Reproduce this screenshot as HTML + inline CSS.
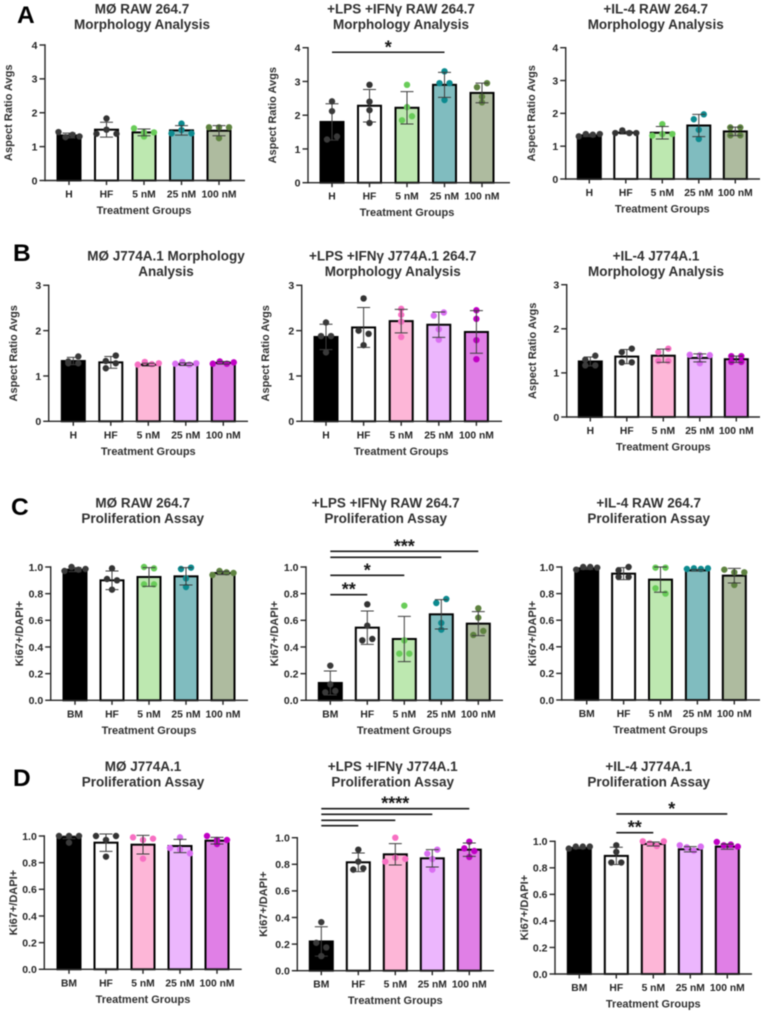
<!DOCTYPE html>
<html lang="en">
<head>
<meta charset="utf-8">
<title>Macrophage morphology and proliferation charts</title>
<style>
  html, body { margin: 0; padding: 0; background: #fff; }
  #figure { display: block; filter: blur(0.45px); font-family: "Liberation Sans", Arial, sans-serif; font-weight: bold; }
</style>
</head>
<body>
<svg id="figure" xmlns="http://www.w3.org/2000/svg" width="766" height="1015" viewBox="0 0 766 1015">
  <rect x="0" y="0" width="766" height="1015" fill="#ffffff"/>
  <text x="17" y="23" font-size="24.5" fill="#000">A</text>
  <text x="13" y="261" font-size="24.5" fill="#000">B</text>
  <text x="11" y="515" font-size="24.5" fill="#000">C</text>
  <text x="13" y="786" font-size="24.5" fill="#000">D</text>
</svg>
<script>
// ---------- shared categories and tick labels ----------
const hCategories = ['H', 'HF', '5 nM', '25 nM', '100 nM'];
const bmCategories = ['BM', 'HF', '5 nM', '25 nM', '100 nM'];
const ticksFour = [0, 1, 2, 3, 4];
const ticksThree = [0, 1, 2, 3];
const ticksFraction = [0, 0.2, 0.4, 0.6, 0.8, 1];
const xAxisTitle = 'Treatment Groups';
const morphologyTitle = 'Aspect Ratio Avgs';
const proliferationTitle = 'Ki67+/DAPI+';

// ---------- data ----------
const a1Means = [1.33, 1.5, 1.42, 1.48, 1.47];
const a1Sds = [0.07, 0.22, 0.1, 0.14, 0.15];
const a1Points = [[1.43, 1.28, 1.35, 1.3], [1.83, 1.38, 1.5, 1.38], [1.54, 1.3, 1.42, 1.42], [1.68, 1.39, 1.49, 1.39], [1.57, 1.57, 1.57, 1.25]];

const a2Means = [1.8, 2.28, 2.22, 2.9, 2.66];
const a2Sds = [0.54, 0.48, 0.48, 0.37, 0.29];
const a2Points = [[2.41, 2.12, 1.28, 1.37], [2.9, 2.4, 2.15, 1.77], [2.9, 2.24, 1.85, 1.97], [3.3, 2.95, 2.95, 2.45], [2.83, 2.95, 2.55, 2.38]];

const a3Means = [1.33, 1.41, 1.41, 1.63, 1.45];
const a3Sds = [0.04, 0.04, 0.19, 0.34, 0.13];
const a3Points = [[1.3, 1.37, 1.35, 1.37], [1.4, 1.48, 1.4, 1.4], [1.67, 1.32, 1.37, 1.37], [1.82, 1.97, 1.5, 1.22], [1.57, 1.57, 1.33, 1.33]];

const b1Means = [1.33, 1.3, 1.25, 1.26, 1.29];
const b1Sds = [0.08, 0.13, 0.03, 0.03, 0.03];
const b1Points = [[1.28, 1.32, 1.43, 1.28], [1.17, 1.33, 1.45, 1.28], [1.25, 1.31, 1.26, 1.28], [1.27, 1.31, 1.25, 1.28], [1.27, 1.32, 1.27, 1.3]];

const b2Means = [1.86, 2.07, 2.21, 2.13, 1.97];
const b2Sds = [0.28, 0.44, 0.26, 0.28, 0.47];
const b2Points = [[2.18, 1.88, 1.88, 1.52], [2.71, 2.0, 1.93, 1.68], [2.48, 2.35, 2.2, 1.86], [2.33, 2.4, 2.03, 1.8], [2.45, 2.26, 1.79, 1.37]];

const b3Means = [1.26, 1.37, 1.39, 1.34, 1.31];
const b3Sds = [0.1, 0.16, 0.15, 0.09, 0.07];
const b3Points = [[1.3, 1.39, 1.17, 1.17], [1.47, 1.55, 1.24, 1.24], [1.47, 1.55, 1.27, 1.27], [1.41, 1.4, 1.4, 1.22], [1.38, 1.38, 1.25, 1.25]];

const c1Means = [0.98, 0.9, 0.925, 0.93, 0.955];
const c1Sds = [0.015, 0.07, 0.07, 0.065, 0.012];
const c1Points = [[0.97, 1.0, 0.98, 0.985], [0.99, 0.91, 0.9, 0.83], [1.0, 0.99, 0.87, 0.87], [0.985, 0.995, 0.915, 0.85], [0.94, 0.97, 0.96, 0.955]];

const c2Means = [0.13, 0.545, 0.46, 0.645, 0.575];
const c2Sds = [0.09, 0.125, 0.17, 0.11, 0.09];
const c2Points = [[0.26, 0.12, 0.06, 0.07], [0.72, 0.56, 0.45, 0.46], [0.71, 0.45, 0.35, 0.35], [0.73, 0.76, 0.58, 0.53], [0.69, 0.62, 0.49, 0.52]];

const c3Means = [0.99, 0.95, 0.905, 0.975, 0.935];
const c3Sds = [0.008, 0.045, 0.095, 0.006, 0.055];
const c3Points = [[0.98, 1.0, 1.0, 0.995], [0.975, 1.0, 0.925, 0.925], [0.995, 0.995, 0.84, 0.8], [0.985, 0.99, 0.985, 0.99], [0.98, 0.96, 0.96, 0.865]];

const d1Means = [0.99, 0.95, 0.935, 0.925, 0.965];
const d1Sds = [0.01, 0.065, 0.07, 0.05, 0.025];
const d1Points = [[1.0, 1.0, 1.0, 0.95], [1.0, 0.97, 1.0, 0.845], [0.99, 0.97, 0.98, 0.83], [0.99, 0.91, 0.9, 0.87], [1.0, 0.97, 0.97, 0.94]];

const d2Means = [0.22, 0.815, 0.875, 0.845, 0.91];
const d2Sds = [0.11, 0.07, 0.08, 0.065, 0.05];
const d2Points = [[0.365, 0.21, 0.175, 0.11], [0.91, 0.82, 0.76, 0.77], [1.0, 0.82, 0.85, 0.84], [0.88, 0.91, 0.84, 0.76], [0.97, 0.92, 0.9, 0.855]];

const d3Means = [0.95, 0.89, 0.98, 0.94, 0.96];
const d3Sds = [0.005, 0.065, 0.015, 0.02, 0.02];
const d3Points = [[0.945, 0.96, 0.96, 0.96], [0.97, 0.92, 0.84, 0.84], [1.0, 0.985, 0.965, 1.0], [0.97, 0.955, 0.93, 0.96], [0.995, 0.97, 0.975, 0.96]];

// significance brackets: group indices, height in axis units, printed stars
const a2Sig = [{ from: 0, to: 3, at: 3.865, label: '*' }];
const c2Sig = [
  { from: 0, to: 1, at: 0.792, label: '**' },
  { from: 0, to: 2, at: 0.938, label: '*' },
  { from: 0, to: 3, at: 1.073, label: '' },
  { from: 0, to: 4, at: 1.118, label: '***' }
];
const d2Sig = [
  { from: 0, to: 1, at: 1.09, label: '' },
  { from: 0, to: 2, at: 1.131, label: '' },
  { from: 0, to: 3, at: 1.176, label: '' },
  { from: 0, to: 4, at: 1.218, label: '****' }
];
const d3Sig = [
  { from: 1, to: 2, at: 1.065, label: '**' },
  { from: 1, to: 4, at: 1.206, label: '*' }
];

// ---------- styling palettes ----------
const greenFills = ['#000000', '#ffffff', '#bde8b0', '#80bcbf', '#aebb9f'];
const greenDots = ['#3a3a3a', '#333333', '#68cc58', '#0c8a8f', '#5e8240'];
const pinkFills = ['#000000', '#ffffff', '#fdb6d7', '#ecb6fd', '#e07fe6'];
const pinkDots = ['#3a3a3a', '#333333', '#f76fc2', '#d96ef2', '#c000c4'];

// ---------- panel list: data references + frame geometry ----------
const panels = [
  { id: 'a1', title: ['MØ RAW 264.7', 'Morphology Analysis'], titleX: 142, titleY: 13.5, cats: hCategories, means: a1Means, sds: a1Sds, points: a1Points, ticks: ticksFour, dec: 0, yt: morphologyTitle, sig: [], fills: greenFills, dots: greenDots, ax: 45, top: 45, base: 180.5, first: 69, step: 37.5, end: 245, ytX: 12 },
  { id: 'a2', title: ['+LPS +IFNγ RAW 264.7', 'Morphology Analysis'], titleX: 401, titleY: 13.5, cats: hCategories, means: a2Means, sds: a2Sds, points: a2Points, ticks: ticksFour, dec: 0, yt: morphologyTitle, sig: a2Sig, fills: greenFills, dots: greenDots, ax: 308, top: 47.7, base: 182.7, first: 332, step: 37.5, end: 510, ytX: 276 },
  { id: 'a3', title: ['+IL-4 RAW 264.7', 'Morphology Analysis'], titleX: 655.7, titleY: 13.5, cats: hCategories, means: a3Means, sds: a3Sds, points: a3Points, ticks: ticksFour, dec: 0, yt: morphologyTitle, sig: [], fills: greenFills, dots: greenDots, ax: 565.7, top: 47.7, base: 179, first: 589.3, step: 36.5, end: 760, ytX: 535 },
  { id: 'b1', title: ['MØ J774A.1 Morphology', 'Analysis'], titleX: 166, titleY: 260.5, cats: hCategories, means: b1Means, sds: b1Sds, points: b1Points, ticks: ticksThree, dec: 0, yt: morphologyTitle, sig: [], fills: pinkFills, dots: pinkDots, ax: 48.7, top: 285.3, base: 421.3, first: 73.3, step: 37.5, end: 248, ytX: 17 },
  { id: 'b2', title: ['+LPS +IFNγ J774A.1 264.7', 'Morphology Analysis'], titleX: 392.7, titleY: 260.5, cats: hCategories, means: b2Means, sds: b2Sds, points: b2Points, ticks: ticksThree, dec: 0, yt: morphologyTitle, sig: [], fills: pinkFills, dots: pinkDots, ax: 301.7, top: 285.3, base: 421.3, first: 326, step: 37.6, end: 502, ytX: 269 },
  { id: 'b3', title: ['+IL-4 J774A.1', 'Morphology Analysis'], titleX: 656, titleY: 260.5, cats: hCategories, means: b3Means, sds: b3Sds, points: b3Points, ticks: ticksThree, dec: 0, yt: morphologyTitle, sig: [], fills: pinkFills, dots: pinkDots, ax: 566.7, top: 284.7, base: 417, first: 590.3, step: 36.5, end: 760, ytX: 536 },
  { id: 'c1', title: ['MØ RAW 264.7', 'Proliferation Assay'], titleX: 142.7, titleY: 507.5, cats: bmCategories, means: c1Means, sds: c1Sds, points: c1Points, ticks: ticksFraction, dec: 1, yt: proliferationTitle, sig: [], fills: greenFills, dots: greenDots, ax: 50.7, top: 567, base: 700.3, first: 75, step: 37, end: 248, ytX: 23 },
  { id: 'c2', title: ['+LPS +IFNγ RAW 264.7', 'Proliferation Assay'], titleX: 385.7, titleY: 507.5, cats: bmCategories, means: c2Means, sds: c2Sds, points: c2Points, ticks: ticksFraction, dec: 1, yt: proliferationTitle, sig: c2Sig, fills: greenFills, dots: greenDots, ax: 306, top: 567, base: 700.3, first: 330.3, step: 37, end: 503, ytX: 278 },
  { id: 'c3', title: ['+IL-4 RAW 264.7', 'Proliferation Assay'], titleX: 648.7, titleY: 507.5, cats: bmCategories, means: c3Means, sds: c3Sds, points: c3Points, ticks: ticksFraction, dec: 1, yt: proliferationTitle, sig: [], fills: greenFills, dots: greenDots, ax: 561.7, top: 567, base: 700, first: 586.7, step: 36.9, end: 760, ytX: 536 },
  { id: 'd1', title: ['MØ J774A.1', 'Proliferation Assay'], titleX: 143, titleY: 771, cats: bmCategories, means: d1Means, sds: d1Sds, points: d1Points, ticks: ticksFraction, dec: 1, yt: proliferationTitle, sig: [], fills: pinkFills, dots: pinkDots, ax: 44.3, top: 836, base: 969.3, first: 69, step: 37, end: 241.7, ytX: 17 },
  { id: 'd2', title: ['+LPS +IFNγ J774A.1', 'Proliferation Assay'], titleX: 392.7, titleY: 771, cats: bmCategories, means: d2Means, sds: d2Sds, points: d2Points, ticks: ticksFraction, dec: 1, yt: proliferationTitle, sig: d2Sig, fills: pinkFills, dots: pinkDots, ax: 297.3, top: 837.7, base: 970.7, first: 321.3, step: 37, end: 494, ytX: 267 },
  { id: 'd3', title: ['+IL-4 J774A.1', 'Proliferation Assay'], titleX: 648.7, titleY: 771, cats: bmCategories, means: d3Means, sds: d3Sds, points: d3Points, ticks: ticksFraction, dec: 1, yt: proliferationTitle, sig: d3Sig, fills: pinkFills, dots: pinkDots, ax: 555, top: 841.3, base: 974, first: 579.3, step: 37, end: 752, ytX: 528 }
];

const SVG_NS = 'http://www.w3.org/2000/svg';
const svg = document.getElementById('figure');
const INK = '#262626';

function make(parent, tag, attrs, text) {
  const el = document.createElementNS(SVG_NS, tag);
  Object.keys(attrs).forEach(function (k) { el.setAttribute(k, attrs[k]); });
  if (text !== undefined) el.textContent = text;
  parent.appendChild(el);
  return el;
}

// Spread values that would overlap into a centred row; array order is left-to-right.
function swarmOffsets(values, yScale) {
  const order = values.map(function (v, i) { return i; }).sort(function (a, b) { return values[b] - values[a]; });
  const offsets = values.map(function () { return 0; });
  let cluster = [];
  function flush() {
    const n = cluster.length;
    if (n > 1) {
      const gap = n === 2 ? 10 : Math.min(10, 21 / (n - 1));
      const inPlace = cluster.slice().sort(function (a, b) { return a - b; });
      inPlace.forEach(function (idx, k) { offsets[idx] = (k - (n - 1) / 2) * gap; });
    }
    cluster = [];
  }
  order.forEach(function (idx) {
    if (cluster.length && Math.abs(yScale(values[idx]) - yScale(values[cluster[0]])) > 5.5) flush();
    cluster.push(idx);
  });
  flush();
  return offsets;
}

panels.forEach(function (p) {
  const g = make(svg, 'g', {});
  
  

  const maxTick = p.ticks[p.ticks.length - 1];
  const y = function (v) { return p.base + (p.top - p.base) * v / maxTick; };
  const x = function (i) { return p.first + p.step * i; };

  // title
  p.title.forEach(function (line, i) {
    const t = make(g, 'text', { x: p.titleX, y: p.titleY + i * 15.7, 'text-anchor': 'middle', 'font-size': 13.5, fill: '#303030' }, line);
    
    
  });

  // bars
  p.means.forEach(function (m, i) {
    const bar = make(g, 'rect', { x: x(i) - 11.5, y: y(m), width: 23, height: p.base - y(m), fill: p.fills[i], stroke: '#000', 'stroke-width': 2 });
    
    
  });

  // data points
  p.points.forEach(function (vals, i) {
    const offs = swarmOffsets(vals, y);
    vals.forEach(function (v, j) {
      const dot = make(g, 'circle', { cx: x(i) + offs[j], cy: y(v), r: 3.2, fill: p.dots[i] });
      
      
    });
  });

  // error bars
  p.means.forEach(function (m, i) {
    const hi = y(m + p.sds[i]);
    const lo = y(m - p.sds[i]);
    const d = 'M' + x(i) + ' ' + hi + 'V' + lo + 'M' + (x(i) - 6.5) + ' ' + hi + 'H' + (x(i) + 6.5) + 'M' + (x(i) - 6.5) + ' ' + lo + 'H' + (x(i) + 6.5);
    const err = make(g, 'path', { d: d, fill: 'none', stroke: '#3c3c3c', 'stroke-width': 1 });
    
    
  });

  // y axis
  const yLine = make(g, 'line', { x1: p.ax, x2: p.ax, y1: p.top - 0.7, y2: p.base + 0.7, stroke: INK, 'stroke-width': 1.4 });
  
  
  p.ticks.forEach(function (v) {
    const tick = make(g, 'line', { x1: p.ax - 5.5, x2: p.ax, y1: y(v), y2: y(v), stroke: INK, 'stroke-width': 1.4 });
    
    
    const lab = make(g, 'text', { x: p.ax - 7.5, y: y(v) + 3.8, 'text-anchor': 'end', 'font-size': 10.5, fill: '#262626' }, v.toFixed(p.dec));
    
    
  });
  const yT = make(g, 'text', { x: p.ytX, y: (p.top + p.base) / 2, 'text-anchor': 'middle', 'font-size': 11, fill: '#303030', transform: 'rotate(-90 ' + p.ytX + ' ' + (p.top + p.base) / 2 + ')' }, p.yt);
  
  

  // x axis
  const xLine = make(g, 'line', { x1: p.ax, x2: p.end, y1: p.base, y2: p.base, stroke: INK, 'stroke-width': 1.4 });
  
  
  p.cats.forEach(function (c, i) {
    const tick = make(g, 'line', { x1: x(i), x2: x(i), y1: p.base, y2: p.base + 4.5, stroke: INK, 'stroke-width': 1.4 });
    
    
    const lab = make(g, 'text', { x: x(i), y: p.base + 17, 'text-anchor': 'middle', 'font-size': 10.3, fill: '#262626' }, c);
    
    
  });
  const xT = make(g, 'text', { x: x(2), y: p.base + 33.5, 'text-anchor': 'middle', 'font-size': 11, fill: '#303030' }, xAxisTitle);
  
  

  // significance brackets
  p.sig.forEach(function (s) {
    const line = make(g, 'line', { x1: x(s.from), x2: x(s.to), y1: y(s.at), y2: y(s.at), stroke: '#1a1a1a', 'stroke-width': 1.6 });
    
    
    if (s.label) {
      const star = make(g, 'text', { x: (x(s.from) + x(s.to)) / 2, y: y(s.at) + 1, 'text-anchor': 'middle', 'font-size': 18, fill: '#1a1a1a' }, s.label);
      
      
    }
  });
});
</script>
</body>
</html>
